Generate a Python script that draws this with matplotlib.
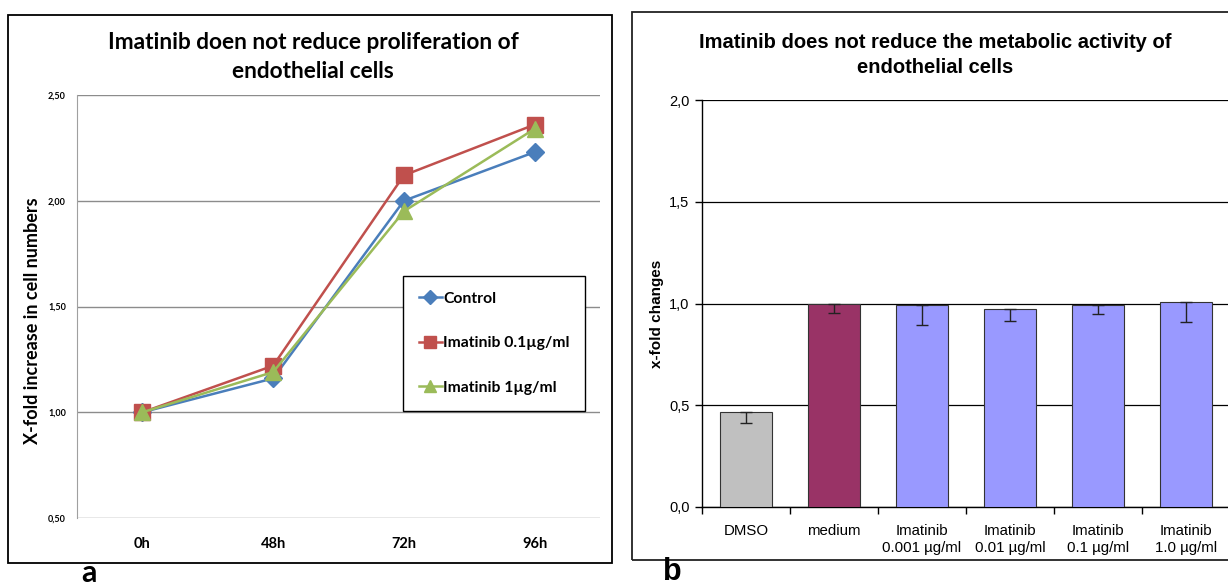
import matplotlib
matplotlib.use("Agg")
import matplotlib.pyplot as plt
from matplotlib.patches import Rectangle
import numpy as np

# ---- data: panel a (proliferation) ----
timepoints = ["0h", "48h", "72h", "96h"]
control = [1.00, 1.16, 2.00, 2.23]
imatinib_01 = [1.00, 1.22, 2.12, 2.36]
imatinib_1 = [1.00, 1.19, 1.95, 2.34]
a_yticks = [0.50, 1.00, 1.50, 2.00, 2.50]

# ---- data: panel b (metabolic activity) ----
conditions = ["DMSO", "medium", "Imatinib\n0.001 µg/ml", "Imatinib\n0.01 µg/ml",
              "Imatinib\n0.1 µg/ml", "Imatinib\n1.0 µg/ml"]
xfold = [0.465, 1.00, 0.993, 0.974, 0.993, 1.007]
xfold_err = [0.05, 0.046, 0.10, 0.06, 0.044, 0.10]
b_yticks = [0.0, 0.5, 1.0, 1.5, 2.0]

BLUE = "#4A7EBB"; RED = "#C0504D"; GREEN = "#9BBB59"
GRAY_BAR = "#C0C0C0"; PLUM = "#993366"; LAV = "#9999FF"
W, H = 1228, 587

fig = plt.figure(figsize=(W / 100, H / 100), dpi=100)
px = lambda x, y: (x / W, 1 - y / H)

# outer frames
fig.patches.append(Rectangle(px(8, 563), (612 - 8) / W, (563 - 15) / H, transform=fig.transFigure,
                             fill=False, ec="black", lw=1.3))
fig.patches.append(Rectangle(px(632, 560), 700 / W, (560 - 12) / H, transform=fig.transFigure,
                             fill=False, ec="#222222", lw=1.3))

# ---------- panel a ----------
cal = "Lato"
ax1 = fig.add_axes([77 / W, 1 - 518 / H, 523 / W, (518 - 95) / H])
x = np.arange(len(timepoints))
ax1.plot(x, control, color=BLUE, lw=1.8, marker="D", ms=9, label="Control", zorder=3)
ax1.plot(x, imatinib_01, color=RED, lw=1.8, marker="s", ms=11, label="Imatinib 0.1µg/ml", zorder=3)
ax1.plot(x, imatinib_1, color=GREEN, lw=1.8, marker="^", ms=11, label="Imatinib 1µg/ml", zorder=4)
ax1.set_xlim(-0.5, 3.5); ax1.set_ylim(0.5, 2.5)
ax1.set_yticks(a_yticks)
ax1.set_yticklabels([f"{v:.2f}".replace(".", ",") for v in a_yticks], fontsize=6.5,
                    fontweight="bold", family=cal)
ax1.set_xticks(x)
ax1.set_xticklabels(timepoints, fontsize=10.5, fontweight="bold", family=cal)
ax1.tick_params(length=0, pad=8)
ax1.tick_params(axis="x", pad=14)
ax1.grid(axis="y", color="#8C8C8C", lw=1)
ax1.set_axisbelow(True)
for s in ("top", "right", "bottom"): ax1.spines[s].set_visible(False)
ax1.spines["left"].set_color("#A0A0A0")
ax1.set_ylabel("X-fold increase in cell numbers", fontsize=13, fontweight="bold", family=cal)
ax1.yaxis.set_label_coords((41 - 77) / 523, (518 - 321) / 423)
leg = ax1.legend(loc="upper left", bbox_to_anchor=((403 - 77) / 523, (518 - 276) / 423), fancybox=False,
                 edgecolor="black", framealpha=1, labelspacing=1.95, handlelength=1.5, handletextpad=0.05,
                 borderpad=1.0, borderaxespad=0, markerscale=0.75,
                 prop={"family": cal, "weight": "bold", "size": 11.3})
leg.get_frame().set_linewidth(1.0)
fig.text(313 / W, 1 - 57 / H, "Imatinib doen not reduce proliferation of\nendothelial cells", ha="center",
         va="center", fontsize=16.3, fontweight="bold", family=cal, linespacing=1.45)
fig.text(89 / W, 0.0, "a", ha="center", va="bottom", fontsize=22, fontweight="bold", family=cal)

# ---------- panel b ----------
ari = "Liberation Sans"
ax2 = fig.add_axes([702 / W, 1 - 507 / H, 528 / W, (507 - 100) / H])
xb = np.arange(len(conditions))
cols = [GRAY_BAR, PLUM] + [LAV] * 4
ax2.bar(xb, xfold, width=0.6, color=cols, edgecolor="#333333", lw=0.8, zorder=3)
ax2.errorbar(xb, xfold, yerr=[xfold_err, [0] * len(xfold)], fmt="none", ecolor="#222222",
             elinewidth=1, capsize=4, capthick=1, zorder=4)
ax2.set_xlim(-0.5, 5.5); ax2.set_ylim(0, 2.0)
ax2.set_yticks(b_yticks)
ax2.set_yticklabels([f"{v:.1f}".replace(".", ",") for v in b_yticks], fontsize=10.5, family=ari)
ax2.set_xticks(xb)
ax2.set_xticklabels(conditions, fontsize=10.8, family=ari, linespacing=1.3)
ax2.tick_params(axis="x", length=0, pad=12)
ax2.set_xticks(np.arange(-0.5, 5.6, 1), minor=True)
ax2.tick_params(axis="x", which="minor", length=5, width=1, color="black", direction="out")
ax2.tick_params(axis="y", length=5, width=1, direction="out", pad=4)
ax2.grid(axis="y", color="black", lw=0.9)
ax2.set_axisbelow(True)
for s in ("top", "right"): ax2.spines[s].set_visible(False)
ax2.spines["left"].set_linewidth(1); ax2.spines["bottom"].set_linewidth(1)
ax2.set_ylabel("x-fold changes", fontsize=11, fontweight="bold", family=ari)
ax2.yaxis.set_label_coords((664 - 702) / 528, (507 - 314) / 407)
fig.text(935 / W, 1 - 55 / H, "Imatinib does not reduce the metabolic activity of\nendothelial cells",
         ha="center", va="center", fontsize=14.5, fontweight="bold", family=ari, linespacing=1.35)
fig.text(672 / W, 0.0, "b", ha="center", va="bottom", fontsize=22, fontweight="bold", family=ari)

fig.savefig("out.png", dpi=100, facecolor="white")
